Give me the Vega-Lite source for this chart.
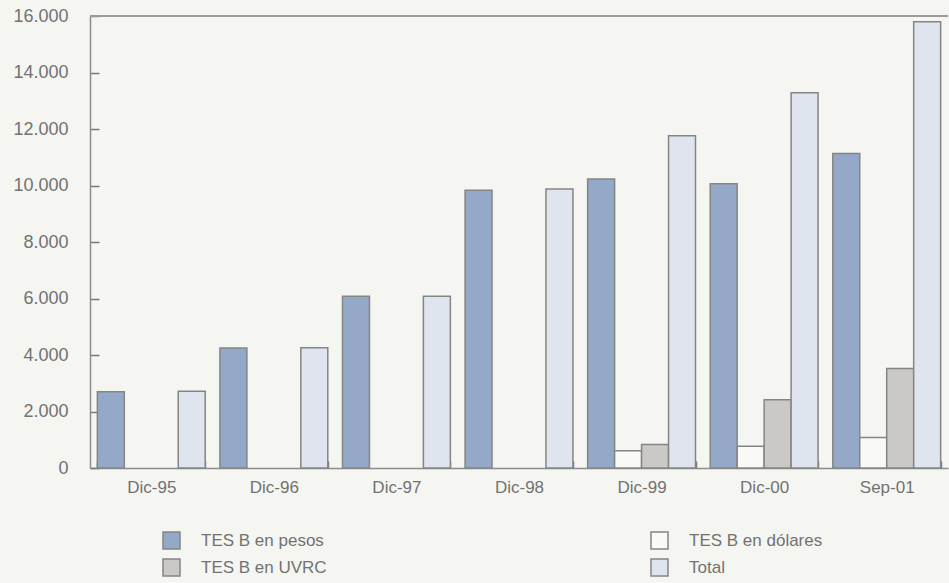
{
  "$schema": "https://vega.github.io/schema/vega-lite/v6.json",
  "width": 858,
  "height": 452,
  "autosize": {"type": "none"},
  "padding": {"left": 90, "top": 16, "right": 1, "bottom": 115},
  "background": "#f5f6f1",
  "config": {"view": {"stroke": null}, "font": "Liberation Sans"},
  "data": {
    "values": [
      {"fecha": "Dic-95", "serie": "TES B en pesos", "valor": 2700},
      {"fecha": "Dic-95", "serie": "Total", "valor": 2720},
      {"fecha": "Dic-96", "serie": "TES B en pesos", "valor": 4250},
      {"fecha": "Dic-96", "serie": "Total", "valor": 4260},
      {"fecha": "Dic-97", "serie": "TES B en pesos", "valor": 6080},
      {"fecha": "Dic-97", "serie": "Total", "valor": 6080},
      {"fecha": "Dic-98", "serie": "TES B en pesos", "valor": 9830},
      {"fecha": "Dic-98", "serie": "Total", "valor": 9880},
      {"fecha": "Dic-99", "serie": "TES B en pesos", "valor": 10230},
      {"fecha": "Dic-99", "serie": "TES B en dólares", "valor": 610},
      {"fecha": "Dic-99", "serie": "TES B en UVRC", "valor": 830},
      {"fecha": "Dic-99", "serie": "Total", "valor": 11760},
      {"fecha": "Dic-00", "serie": "TES B en pesos", "valor": 10060},
      {"fecha": "Dic-00", "serie": "TES B en dólares", "valor": 770},
      {"fecha": "Dic-00", "serie": "TES B en UVRC", "valor": 2420},
      {"fecha": "Dic-00", "serie": "Total", "valor": 13280},
      {"fecha": "Sep-01", "serie": "TES B en pesos", "valor": 11130},
      {"fecha": "Sep-01", "serie": "TES B en dólares", "valor": 1080},
      {"fecha": "Sep-01", "serie": "TES B en UVRC", "valor": 3520},
      {"fecha": "Sep-01", "serie": "Total", "valor": 15800}
    ]
  },
  "layer": [
    {
      "mark": {"type": "bar", "stroke": "#858585", "strokeWidth": 1.5},
      "encoding": {
        "x": {
          "field": "fecha",
          "type": "nominal",
          "sort": ["Dic-95", "Dic-96", "Dic-97", "Dic-98", "Dic-99", "Dic-00", "Sep-01"],
          "scale": {"paddingInner": 0.12, "paddingOuter": 0.06},
          "axis": {
            "title": null,
            "labelAngle": 0,
            "labelFont": "Liberation Sans",
            "labelFontSize": 17,
            "labelColor": "#727272",
            "labelPadding": 18,
            "domainColor": "#8c8c8c",
            "domainWidth": 1.5,
            "tickBand": "extent",
            "tickColor": "#7a7a7a",
            "tickWidth": 1.5,
            "tickSize": -7
          }
        },
        "xOffset": {
          "field": "serie",
          "type": "nominal",
          "scale": {"domain": ["TES B en pesos", "TES B en dólares", "TES B en UVRC", "Total"], "paddingInner": 0, "paddingOuter": 0}
        },
        "y": {
          "field": "valor",
          "type": "quantitative",
          "scale": {"domain": [0, 16000], "nice": false},
          "axis": {
            "title": null,
            "values": [0, 2000, 4000, 6000, 8000, 10000, 12000, 14000, 16000],
            "labelExpr": "replace(format(datum.value, ','), ',', '.')",
            "labelFont": "Liberation Sans",
            "labelFontSize": 18,
            "labelColor": "#727272",
            "labelPadding": 31,
            "grid": false,
            "domainColor": "#8c8c8c",
            "domainWidth": 1.5,
            "tickColor": "#7a7a7a",
            "tickWidth": 1.5,
            "tickSize": -9
          }
        },
        "color": {
          "field": "serie",
          "type": "nominal",
          "scale": {
            "domain": ["TES B en pesos", "TES B en dólares", "TES B en UVRC", "Total"],
            "range": ["#93a9c7", "#f9faf6", "#cac9c5", "#dee5ee"]
          },
          "legend": {
            "title": null,
            "orient": "none",
            "legendX": 72,
            "legendY": 515,
            "direction": "horizontal",
            "columns": 2,
            "columnPadding": 321,
            "rowPadding": 4,
            "symbolType": "square",
            "symbolSize": 289,
            "symbolStrokeColor": "#858585",
            "symbolStrokeWidth": 1.5,
            "labelFont": "Liberation Sans",
            "labelFontSize": 17,
            "labelColor": "#727272",
            "labelOffset": 20
          }
        }
      }
    },
    {
      "mark": {"type": "rule", "color": "#9a9a9a", "strokeWidth": 1.5},
      "encoding": {"y": {"datum": 16000}}
    }
  ]
}
